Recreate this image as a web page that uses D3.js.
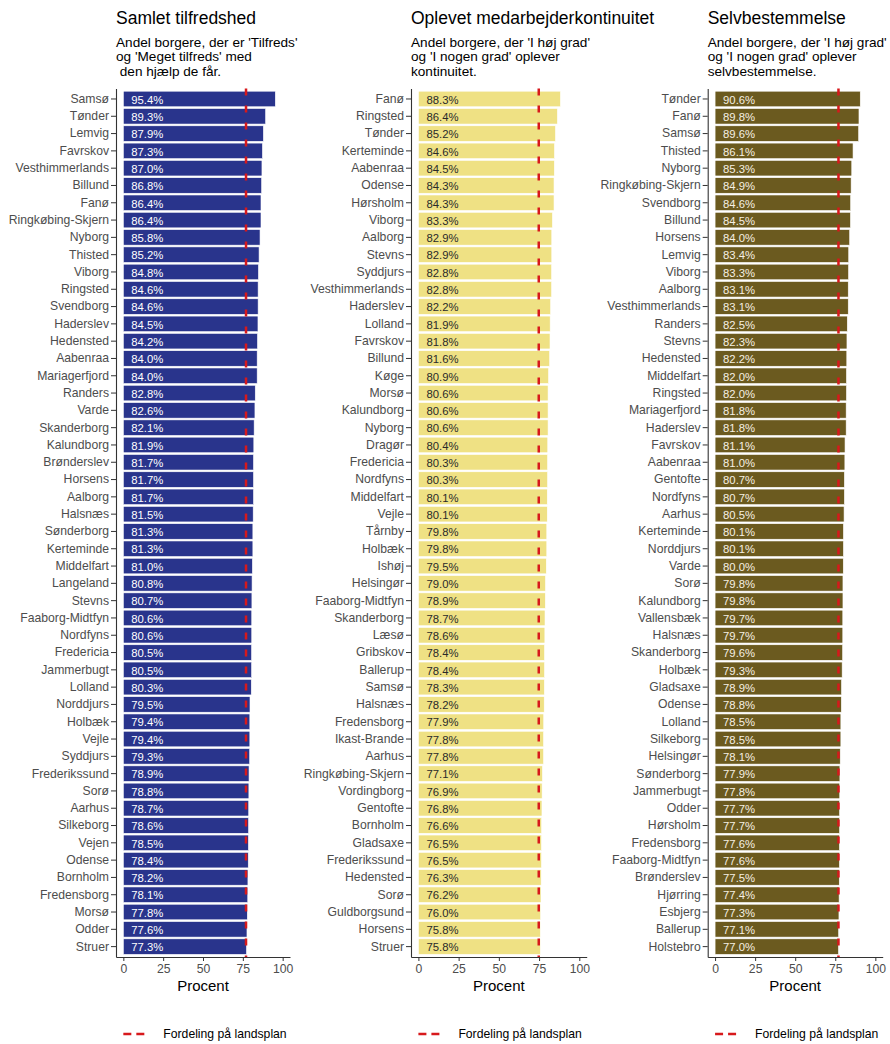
<!DOCTYPE html>
<html>
<head>
<meta charset="utf-8">
<script src="https://cdn.jsdelivr.net/npm/d3@7"></script>
<style>
  body { margin: 0; background: #fff; }
  svg { font-family: "Liberation Sans", Arial, sans-serif; display: block; }
</style>
</head>
<body>
<svg id="chart" width="890" height="1044"></svg>
<script>
// --- Data ---
const namesTilfreds = ["Samsø","Tønder","Lemvig","Favrskov","Vesthimmerlands","Billund","Fanø","Ringkøbing-Skjern","Nyborg","Thisted",
  "Viborg","Ringsted","Svendborg","Haderslev","Hedensted","Aabenraa","Mariagerfjord","Randers","Varde","Skanderborg",
  "Kalundborg","Brønderslev","Horsens","Aalborg","Halsnæs","Sønderborg","Kerteminde","Middelfart","Langeland","Stevns",
  "Faaborg-Midtfyn","Nordfyns","Fredericia","Jammerbugt","Lolland","Norddjurs","Holbæk","Vejle","Syddjurs","Frederikssund",
  "Sorø","Aarhus","Silkeborg","Vejen","Odense","Bornholm","Fredensborg","Morsø","Odder","Struer"];
const valuesTilfreds = [95.4,89.3,87.9,87.3,87.0,86.8,86.4,86.4,85.8,85.2,
  84.8,84.6,84.6,84.5,84.2,84.0,84.0,82.8,82.6,82.1,
  81.9,81.7,81.7,81.7,81.5,81.3,81.3,81.0,80.8,80.7,
  80.6,80.6,80.5,80.5,80.3,79.5,79.4,79.4,79.3,78.9,
  78.8,78.7,78.6,78.5,78.4,78.2,78.1,77.8,77.6,77.3];

const namesKontinuitet = ["Fanø","Ringsted","Tønder","Kerteminde","Aabenraa","Odense","Hørsholm","Viborg","Aalborg","Stevns",
  "Syddjurs","Vesthimmerlands","Haderslev","Lolland","Favrskov","Billund","Køge","Morsø","Kalundborg","Nyborg",
  "Dragør","Fredericia","Nordfyns","Middelfart","Vejle","Tårnby","Holbæk","Ishøj","Helsingør","Faaborg-Midtfyn",
  "Skanderborg","Læsø","Gribskov","Ballerup","Samsø","Halsnæs","Fredensborg","Ikast-Brande","Aarhus","Ringkøbing-Skjern",
  "Vordingborg","Gentofte","Bornholm","Gladsaxe","Frederikssund","Hedensted","Sorø","Guldborgsund","Horsens","Struer"];
const valuesKontinuitet = [88.3,86.4,85.2,84.6,84.5,84.3,84.3,83.3,82.9,82.9,
  82.8,82.8,82.2,81.9,81.8,81.6,80.9,80.6,80.6,80.6,
  80.4,80.3,80.3,80.1,80.1,79.8,79.8,79.5,79.0,78.9,
  78.7,78.6,78.4,78.4,78.3,78.2,77.9,77.8,77.8,77.1,
  76.9,76.8,76.6,76.5,76.5,76.3,76.2,76.0,75.8,75.8];

const namesSelvbestemmelse = ["Tønder","Fanø","Samsø","Thisted","Nyborg","Ringkøbing-Skjern","Svendborg","Billund","Horsens","Lemvig",
  "Viborg","Aalborg","Vesthimmerlands","Randers","Stevns","Hedensted","Middelfart","Ringsted","Mariagerfjord","Haderslev",
  "Favrskov","Aabenraa","Gentofte","Nordfyns","Aarhus","Kerteminde","Norddjurs","Varde","Sorø","Kalundborg",
  "Vallensbæk","Halsnæs","Skanderborg","Holbæk","Gladsaxe","Odense","Lolland","Silkeborg","Helsingør","Sønderborg",
  "Jammerbugt","Odder","Hørsholm","Fredensborg","Faaborg-Midtfyn","Brønderslev","Hjørring","Esbjerg","Ballerup","Holstebro"];
const valuesSelvbestemmelse = [90.6,89.8,89.6,86.1,85.3,84.9,84.6,84.5,84.0,83.4,
  83.3,83.1,83.1,82.5,82.3,82.2,82.0,82.0,81.8,81.8,
  81.1,81.0,80.7,80.7,80.5,80.1,80.1,80.0,79.8,79.8,
  79.7,79.7,79.6,79.3,78.9,78.8,78.5,78.5,78.1,77.9,
  77.8,77.7,77.7,77.6,77.6,77.5,77.4,77.3,77.1,77.0];

const landsplan = [77.0, 74.8, 77.0];
const titles = ["Samlet tilfredshed", "Oplevet medarbejderkontinuitet", "Selvbestemmelse"];
const subtitles = [
  ["Andel borgere, der er 'Tilfreds'", "og 'Meget tilfreds' med", " den hjælp de får."],
  ["Andel borgere, der 'I høj grad'", "og 'I nogen grad' oplever", "kontinuitet."],
  ["Andel borgere, der 'I høj grad'", "og 'I nogen grad' oplever", "selvbestemmelse."]
];
const xTicks = [0, 25, 50, 75, 100];
const legendLabel = "Fordeling på landsplan";

// --- Panel setup ---
const panels = [
  { names: namesTilfreds, values: valuesTilfreds, left: 116, right: 290, fill: "#29348c", textFill: "#ffffff" },
  { names: namesKontinuitet, values: valuesKontinuitet, left: 411, right: 586.7, fill: "#efe184", textFill: "#2a2a2a" },
  { names: namesSelvbestemmelse, values: valuesSelvbestemmelse, left: 707.7, right: 882.7, fill: "#6b5a1f", textFill: "#f6f0e2" }
];

const svg = d3.select("#chart");
const plotTop = 88.6, plotBottom = 957;

panels.forEach((p, i) => {
    const g = svg.append("g");

    const x = d3.scaleLinear().domain([-4.6, 104.6]).range([p.left, p.right]);
    const y = d3.scaleBand().domain(p.names).range([plotTop, plotBottom])
        .paddingInner(0.1).paddingOuter(0.15);

    // Title + subtitle
    g.append("text")
        .attr("x", p.left).attr("y", 23.5)
        .attr("font-size", 17.5).attr("fill", "#000")
        .text(titles[i]);
    const sub = g.append("text")
        .attr("x", p.left).attr("y", 46.5)
        .attr("font-size", 13.6).attr("fill", "#000")
        .style("white-space", "pre");
    subtitles[i].forEach((line, k) => {
        sub.append("tspan").attr("x", p.left).attr("dy", k === 0 ? 0 : 14.7).text(line);
    });

    // Bars
    g.append("g").selectAll("rect")
        .data(p.values)
        .join("rect")
        .attr("x", x(0))
        .attr("y", (d, j) => y(p.names[j]))
        .attr("width", d => x(d) - x(0))
        .attr("height", y.bandwidth())
        .attr("fill", p.fill)
        .attr("stroke", "#ffffff")
        .attr("stroke-width", 0.6);

    // Value labels
    g.append("g").selectAll("text")
        .data(p.values)
        .join("text")
        .attr("x", x(5))
        .attr("y", (d, j) => y(p.names[j]) + y.bandwidth() / 2)
        .attr("dy", "0.42em")
        .attr("font-size", 11.3)
        .attr("fill", p.textFill)
        .text(d => d.toFixed(1) + "%");

    // National reference line
    g.append("line")
        .attr("x1", x(landsplan[i])).attr("x2", x(landsplan[i]))
        .attr("y1", plotTop).attr("y2", plotBottom)
        .attr("stroke", "#d7191c")
        .attr("stroke-width", 2.5)
        .attr("stroke-dasharray", "7,10");

    // Axes
    const yAxis = g.append("g")
        .attr("transform", `translate(${p.left},0)`)
        .call(d3.axisLeft(y).tickSize(5).tickPadding(2).tickSizeOuter(0));
    yAxis.select(".domain").attr("stroke", "#333").attr("stroke-width", 1.1);
    yAxis.selectAll(".tick line").attr("stroke", "#333");
    yAxis.selectAll(".tick text").attr("fill", "#4d4d4d").attr("font-size", 12.2)
        .attr("font-family", "Liberation Sans, Arial, sans-serif");

    const xAxis = g.append("g")
        .attr("transform", `translate(0,${plotBottom})`)
        .call(d3.axisBottom(x).tickValues(xTicks).tickSize(4).tickPadding(3).tickSizeOuter(0));
    xAxis.select(".domain").attr("stroke", "#333").attr("stroke-width", 1.1);
    xAxis.selectAll(".tick line").attr("stroke", "#333");
    xAxis.selectAll(".tick text").attr("fill", "#4d4d4d").attr("font-size", 12.2)
        .attr("font-family", "Liberation Sans, Arial, sans-serif");

    g.append("text")
        .attr("x", (p.left + p.right) / 2).attr("y", 991)
        .attr("text-anchor", "middle")
        .attr("font-size", 15).attr("fill", "#000")
        .text("Procent");

    // Legend
    const lx = x(0);
    g.append("line")
        .attr("x1", lx).attr("x2", lx + 22)
        .attr("y1", 1034).attr("y2", 1034)
        .attr("stroke", "#d7191c").attr("stroke-width", 2.5)
        .attr("stroke-dasharray", "8,5");
    g.append("text")
        .attr("x", lx + 40).attr("y", 1034).attr("dy", "0.35em")
        .attr("font-size", 12.2).attr("fill", "#000")
        .text(legendLabel);
});
</script>
</body>
</html>
